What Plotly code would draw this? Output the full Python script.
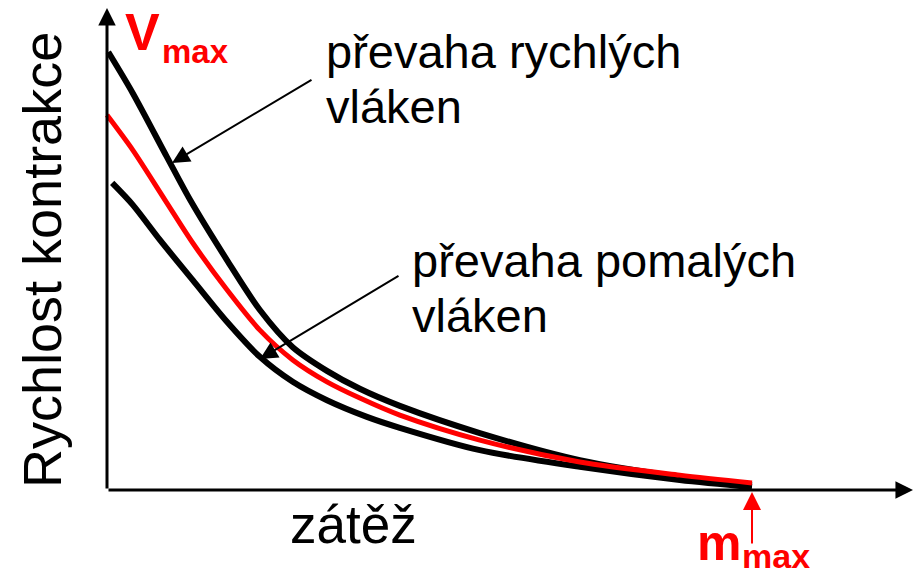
import plotly.graph_objects as go

# zátěž (0 .. m_max) a rychlost kontrakce (0 .. V_max)
load_fast = [0.002, 0.040, 0.093, 0.129, 0.186, 0.237, 0.288, 0.341, 0.392, 0.454, 0.578, 0.733, 0.888, 1.0]
speed_fast = [1.000, 0.906, 0.760, 0.662, 0.525, 0.411, 0.326, 0.272, 0.231, 0.192, 0.130, 0.068, 0.030, 0.011]

load_mix = [0.0, 0.040, 0.090, 0.133, 0.186, 0.237, 0.288, 0.341, 0.392, 0.454, 0.578, 0.733, 0.888, 1.0]
speed_mix = [0.856, 0.776, 0.662, 0.564, 0.457, 0.365, 0.297, 0.247, 0.210, 0.171, 0.114, 0.064, 0.034, 0.016]

load_slow = [0.008, 0.040, 0.082, 0.133, 0.186, 0.237, 0.288, 0.341, 0.403, 0.454, 0.578, 0.733, 0.888, 1.0]
speed_slow = [0.701, 0.651, 0.571, 0.479, 0.384, 0.304, 0.247, 0.205, 0.167, 0.142, 0.091, 0.053, 0.023, 0.007]

W, H = 915, 576
# kde leží počátek (0,0) a bod (m_max, V_max) v pixelech
X0_PX, X1_PX = 107, 752
Y0_PX, Y1_PX = 490, 52

FONT = "Liberation Sans, Arial, sans-serif"
RED = "#FF0000"


def px(x):
    return x / W


def py(y):
    return 1 - y / H


def dx(x):
    return (x - X0_PX) / (X1_PX - X0_PX)


def dy(y):
    return (Y0_PX - y) / (Y0_PX - Y1_PX)


fig = go.Figure()
fig.add_trace(go.Scatter(x=load_fast, y=speed_fast, mode="lines",
                         line=dict(color="black", width=6, shape="spline", smoothing=0.8),
                         hoverinfo="skip"))
fig.add_trace(go.Scatter(x=load_slow, y=speed_slow, mode="lines",
                         line=dict(color="black", width=6, shape="spline", smoothing=0.8),
                         hoverinfo="skip"))
fig.add_trace(go.Scatter(x=load_mix, y=speed_mix, mode="lines",
                         line=dict(color=RED, width=5, shape="spline", smoothing=0.8),
                         hoverinfo="skip"))

ann = []


def arrow(x, y, ax, ay, color="black", width=2, size=1.75):
    ann.append(dict(x=x, y=y, ax=ax, ay=ay, xref="x", yref="y", axref="x", ayref="y",
                    text="", showarrow=True, arrowhead=2, arrowsize=size,
                    arrowwidth=width, arrowcolor=color, standoff=0))


# osy
arrow(dx(913), 0, 0, 0, width=3, size=1.17)
arrow(0, dy(8), 0, 0, width=3, size=1.17)
# šipky k popiskům
arrow(dx(172), dy(163), dx(313), dy(79))
arrow(dx(260), dy(359), dx(400), dy(275))
arrow(1.0, dy(492), 1.0, dy(545), color=RED, width=2, size=1.8)


def label(text, x, baseline, size, color="black", bold=False):
    ann.append(dict(text=text, x=px(x), y=py(baseline - 0.35 * size), xref="paper", yref="paper",
                    xanchor="left", yanchor="middle", showarrow=False, borderpad=0,
                    font=dict(family=FONT, size=size, color=color,
                              weight="bold" if bold else "normal")))


label("převaha rychlých", 325, 68, 47)
label("vláken", 325, 123, 47)
label("převaha pomalých", 411, 277, 47)
label("vláken", 411, 332, 47)
label("zátěž", 289, 543, 53)
label("V", 124, 50, 52, RED, True)
label("max", 161, 63, 33, RED, True)
label("m", 696, 560, 50, RED, True)
label("max", 741, 568, 34, RED, True)

ann.append(dict(text="Rychlost kontrakce", x=px(42), y=py(260), xref="paper", yref="paper",
                xanchor="center", yanchor="middle", textangle=-90, showarrow=False,
                font=dict(family=FONT, size=54, color="black")))

fig.update_layout(
    width=W, height=H,
    margin=dict(l=0, r=0, t=0, b=0, autoexpand=False),
    paper_bgcolor="white", plot_bgcolor="white",
    showlegend=False,
    xaxis=dict(range=[dx(0), dx(W)], visible=False, fixedrange=True),
    yaxis=dict(range=[dy(H), dy(0)], visible=False, fixedrange=True),
    annotations=ann,
)

# bez okraje stránky, aby graf seděl přesně v okně
fig.write_html("out.html", config={"displayModeBar": False},
               post_script="document.body.style.margin='0';")
